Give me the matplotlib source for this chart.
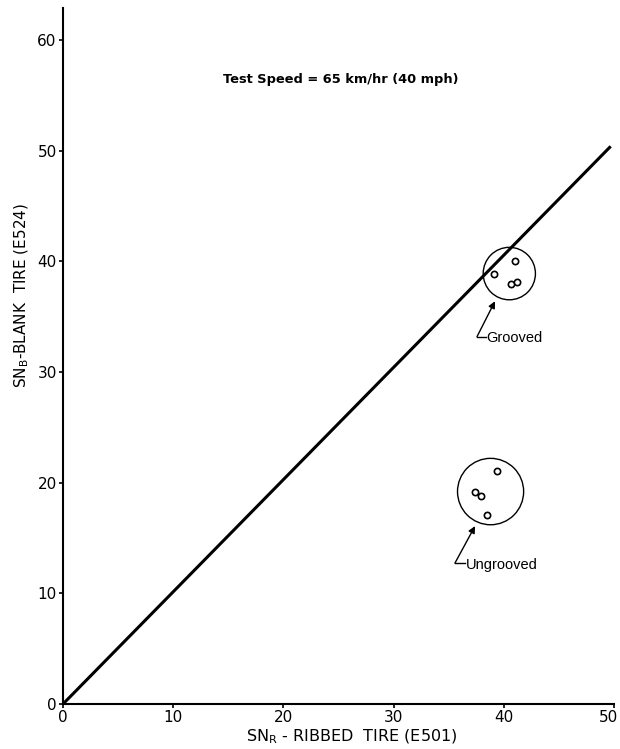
import numpy as np
import matplotlib.pyplot as plt
from matplotlib.patches import Circle
from matplotlib.transforms import ScaledTranslation

# skid numbers, ribbed tire (E501) vs blank tire (E524), 65 km/hr
grooved_ribbed = [41.0, 39.1, 40.65, 41.2]
grooved_blank = [40.0, 38.9, 38.0, 38.1]
ungrooved_ribbed = [39.4, 37.4, 37.9, 38.5]
ungrooved_blank = [21.1, 19.2, 18.8, 17.1]
line_x = [0, 49.7]
line_y = [0, 50.4]
x_ticks = [0, 10, 20, 30, 40, 50]
y_ticks = [0, 10, 20, 30, 40, 50, 60]

fig = plt.figure(figsize=(6.2, 7.49), dpi=100)
ax = fig.add_axes([63/620, 45/749, 551/620, 696/749])

# equality line
ax.plot(line_x, line_y, color='black', lw=2.2, solid_capstyle='butt')

ax.plot(grooved_ribbed, grooved_blank, 'o', mfc='white', mec='black', ms=4.5, mew=1.2)
ax.plot(ungrooved_ribbed, ungrooved_blank, 'o', mfc='white', mec='black', ms=4.5, mew=1.2)

# group outlines
ax.add_patch(Circle((40.5, 38.9), 2.37, fill=False, lw=1.0, color='black'))
ax.add_patch(Circle((38.8, 19.2), 3.0, fill=False, lw=1.0, color='black'))

# group labels with leaders
arrow = dict(arrowstyle='-|>', color='black', lw=1.0, mutation_scale=10, shrinkA=0, shrinkB=0)
ax.annotate('', xy=(39.2, 36.4), xytext=(37.57, 33.2), arrowprops=arrow)
ax.plot([37.57, 38.4], [33.2, 33.2], color='black', lw=1.0)
ax.text(38.45, 33.1, 'Grooved', fontsize=10.5, ha='left', va='center', family='Liberation Sans')

ax.annotate('', xy=(37.39, 16.08), xytext=(35.57, 12.74), arrowprops=arrow)
ax.plot([35.57, 36.5], [12.74, 12.74], color='black', lw=1.0)
ax.text(36.55, 12.6, 'Ungrooved', fontsize=10.5, ha='left', va='center', family='Liberation Sans')

ax.text(14.5, 56.4, 'Test Speed = 65 km/hr (40 mph)', fontsize=9.4, fontweight='bold',
        ha='left', va='center', family='DejaVu Sans')

ax.set_xlim(0, 50)
ax.set_ylim(0, 62.9)
ax.set_xticks(x_ticks)
ax.set_yticks(y_ticks)
ax.tick_params(direction='out', length=3, width=1.2, labelsize=11, pad=1.5)
for s in ['top', 'right']:
    ax.spines[s].set_visible(False)
for s in ['left', 'bottom']:
    ax.spines[s].set_linewidth(1.5)

# pull the last x label in from the figure edge
last = ax.get_xticklabels()[-1]
last.set_transform(last.get_transform() + ScaledTranslation(-6/100, 0, fig.dpi_scale_trans))

fig.text(352/620, 1 - 737/749, r'SN$_\mathregular{R}$ - RIBBED  TIRE (E501)', ha='center', va='center', fontsize=11.5)
fig.text(22/620, 1 - 295/749, r'SN$_\mathregular{B}$-BLANK  TIRE (E524)', ha='center', va='center',
         fontsize=11, rotation=90)

fig.savefig('out.png', dpi=100)
